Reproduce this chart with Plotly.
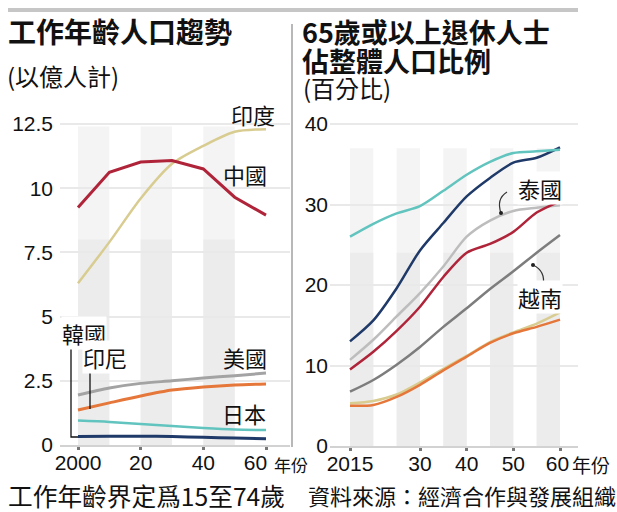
import plotly.graph_objects as go

W, H = 617, 512

# ---------------- data: left panel (working-age population, 億人) ----------------
work_years = [2000, 2010, 2020, 2030, 2040, 2050, 2060]
work_china = [9.25, 10.62, 11.02, 11.08, 10.75, 9.65, 8.95]
work_india = [6.3, 7.9, 9.6, 10.95, 11.65, 12.2, 12.3]
work_usa = [1.95, 2.22, 2.40, 2.50, 2.61, 2.70, 2.80]
work_indonesia = [1.36, 1.64, 1.91, 2.14, 2.26, 2.34, 2.38]
work_japan = [0.95, 0.90, 0.82, 0.74, 0.66, 0.60, 0.58]
work_korea = [0.33, 0.34, 0.34, 0.33, 0.30, 0.27, 0.24]

# ---------------- data: right panel (share aged 65+, %) ----------------
old_years = [2015, 2020, 2025, 2030, 2035, 2040, 2045, 2050, 2055, 2060]
old_japan = [26.0, 27.6, 28.9, 29.8, 31.7, 33.7, 35.3, 36.4, 36.6, 36.8]
old_korea = [13.0, 15.6, 19.6, 24.3, 27.7, 31.0, 33.3, 35.2, 35.8, 37.1]
old_china = [9.5, 11.7, 14.3, 17.3, 21.0, 24.0, 25.1, 26.6, 29.0, 30.4]
old_thailand = [10.7, 13.2, 16.1, 19.0, 22.3, 26.0, 28.0, 29.2, 29.6, 29.9]
old_vietnam = [6.75, 8.2, 10.1, 12.3, 14.8, 17.1, 19.5, 21.7, 24.0, 26.2]
old_india = [5.3, 5.6, 6.4, 7.9, 9.6, 11.2, 12.9, 14.1, 15.2, 16.6]
old_indonesia = [5.0, 5.1, 6.1, 7.6, 9.4, 11.1, 12.8, 14.0, 14.8, 15.7]

# ---------------- ticks / bands ----------------
left_x_ticks = [2000, 2020, 2040, 2060]
left_x_text = ["2000", "20", "40", "60\u2003"]
left_y_ticks = [0, 2.5, 5, 7.5, 10, 12.5]
left_y_text = ["0", "2.5", "5", "7.5", "10", "12.5"]
right_x_ticks = [2015, 2030, 2040, 2050, 2060]
right_x_text = ["2015", "30", "40", "50", "60\u2005"]
right_y_ticks = [0, 10, 20, 30, 40]
right_y_text = ["0", "10", "20", "30", "40"]
left_bands = [(2000, 2010), (2020, 2030), (2040, 2050)]
right_bands = [(2015, 2020), (2025, 2030), (2035, 2040), (2045, 2050), (2055, 2060)]

# ---------------- style ----------------
CJK = "Noto Sans CJK TC, Noto Sans CJK SC, sans-serif"
NUM = "Liberation Sans Narrow, Arial Narrow, Liberation Sans, sans-serif"
NUM_SIZE = 21
C_CHINA = "#b0243a"
C_INDIA = "#d8cc90"
C_USA = "#a3a3a3"
C_INDO = "#e5773a"
C_JAPAN = "#62c4be"
C_KOREA = "#1f3a68"
C_THAI = "#bdbdbd"
C_VIET = "#7d7d7d"


def px(x):
    return x / W


def py(y):
    return 1 - y / H


fig = go.Figure()


def line(x, y, color, width, axis, shape="spline"):
    xa, ya = ("x", "y") if axis == 1 else ("x2", "y2")
    fig.add_trace(go.Scatter(x=x, y=y, mode="lines", xaxis=xa, yaxis=ya,
                             line=dict(color=color, width=width, shape=shape, smoothing=0.8),
                             hoverinfo="skip", showlegend=False, cliponaxis=False))


# left panel
line(work_years, work_korea, C_KOREA, 3, 1)
line(work_years, work_japan, C_JAPAN, 2.5, 1)
line(work_years, work_usa, C_USA, 3, 1)
line(work_years, work_indonesia, C_INDO, 3, 1)
line(work_years, work_india, C_INDIA, 2.5, 1)
line(work_years, work_china, C_CHINA, 3, 1, shape="linear")

# right panel
line(old_years, old_india, C_INDIA, 2.5, 2)
line(old_years, old_indonesia, C_INDO, 2.5, 2)
line(old_years, old_vietnam, C_VIET, 2.5, 2)
line(old_years, old_thailand, C_THAI, 2.5, 2)
line(old_years, old_china, C_CHINA, 2.5, 2)
line(old_years, old_korea, C_KOREA, 2.5, 2)
line(old_years, old_japan, C_JAPAN, 2.5, 2)

# axes geometry (pixel-derived)
lx_ppy = (266 - 78) / 60.0
rx_ppy = (560 - 350) / 45.0
ly_ppu = (445 - 124) / 12.5
ry_ppu = (446 - 124) / 40.0

xcommon = dict(showgrid=False, zeroline=False, fixedrange=True, automargin=False,
               showline=True, linecolor="#d2d2d2", linewidth=2,
               ticks="outside", ticklen=3, tickwidth=3, tickcolor="#777",
               ticklabelstandoff=-5,
               tickfont=dict(family=NUM, size=NUM_SIZE, color="#111"))
ycommon = dict(showgrid=True, gridcolor="#e9e9e9", gridwidth=2, zeroline=False,
               fixedrange=True, automargin=False,
               tickfont=dict(family=NUM, size=NUM_SIZE, color="#111"))

fig.update_layout(
    width=W, height=H, margin=dict(l=0, r=0, t=0, b=0, autoexpand=False),
    paper_bgcolor="white", plot_bgcolor="white",
    xaxis=dict(domain=[px(60), px(290)],
               range=[2000 - 18 / lx_ppy, 2060 + 24 / lx_ppy],
               tickvals=left_x_ticks, ticktext=left_x_text, anchor="y", **xcommon),
    yaxis=dict(domain=[py(445), py(112)],
               range=[0, (445 - 112) / ly_ppu],
               tickvals=left_y_ticks, ticktext=left_y_text,
               ticklabelstandoff=6, anchor="x", **ycommon),
    xaxis2=dict(domain=[px(330), px(578)],
                range=[2015 - 20 / rx_ppy, 2060 + 18 / rx_ppy],
                tickvals=right_x_ticks, ticktext=right_x_text, anchor="y2", **xcommon),
    yaxis2=dict(domain=[py(446), py(112)],
                range=[0, (446 - 112) / ry_ppu],
                tickvals=right_y_ticks, ticktext=right_y_text,
                ticklabelstandoff=1, anchor="x2", **ycommon),
)

# background bands
for (a, b) in left_bands:
    fig.add_shape(type="rect", xref="x", yref="y", x0=a, x1=b, y0=0, y1=12.4,
                  fillcolor="#f4f4f4", line_width=0, layer="below")
    fig.add_shape(type="rect", xref="x", yref="y", x0=a, x1=b, y0=0, y1=8.0,
                  fillcolor="#ececec", line_width=0, layer="below")
for (a, b) in right_bands:
    fig.add_shape(type="rect", xref="x2", yref="y2", x0=a, x1=b, y0=0, y1=37,
                  fillcolor="#f4f4f4", line_width=0, layer="below")
    fig.add_shape(type="rect", xref="x2", yref="y2", x0=a, x1=b, y0=0, y1=24,
                  fillcolor="#ececec", line_width=0, layer="below")

# frame lines
fig.add_shape(type="line", xref="paper", yref="paper", x0=px(8), x1=px(578), y0=py(10), y1=py(10),
              line=dict(color="#c6c6c6", width=4))
fig.add_shape(type="line", xref="paper", yref="paper", x0=px(292), x1=px(292), y0=py(24), y1=py(447),
              line=dict(color="#b8b8b8", width=2))


def path(points, cmd=None):
    s = "M {} {}".format(px(points[0][0]), py(points[0][1]))
    if cmd == "Q":
        s += " Q {} {} {} {}".format(px(points[1][0]), py(points[1][1]), px(points[2][0]), py(points[2][1]))
    else:
        for (x, y) in points[1:]:
            s += " L {} {}".format(px(x), py(y))
    return s


# leader lines
fig.add_shape(type="path", xref="paper", yref="paper", path=path([(71, 343), (71, 437), (78, 437)]),
              line=dict(color="#111", width=1.3))
fig.add_shape(type="path", xref="paper", yref="paper", path=path([(90, 370), (90, 409)]),
              line=dict(color="#111", width=1.3))
fig.add_shape(type="path", xref="paper", yref="paper", path=path([(507, 192), (496, 199), (501, 213)], "Q"),
              line=dict(color="#333", width=1.2))
fig.add_shape(type="path", xref="paper", yref="paper", path=path([(533, 265), (546, 271), (543, 286)], "Q"),
              line=dict(color="#333", width=1.2))
for (cx, cy) in [(501, 213), (533, 265)]:
    fig.add_shape(type="circle", xref="paper", yref="paper",
                  x0=px(cx - 2), x1=px(cx + 2), y0=py(cy + 2), y1=py(cy - 2),
                  fillcolor="#222", line_width=0)


def label(text, x, cy, size=22, bold=False, xanchor="center", bg="rgba(0,0,0,0)"):
    fig.add_annotation(x=px(x), y=py(cy), xref="paper", yref="paper", text=text,
                       showarrow=False, xanchor=xanchor, yanchor="middle",
                       font=dict(family=CJK, size=size, color="#111",
                                 weight="bold" if bold else "normal"),
                       bgcolor=bg, borderpad=0)


# titles
label("工作年齡人口趨勢", 7, 31, size=28, bold=True, xanchor="left")
label("(以億人計)", 6, 75, size=24, xanchor="left")
label("65歲或以上退休人士", 301, 31, size=27, bold=True, xanchor="left")
label("佔整體人口比例", 301, 60, size=27, bold=True, xanchor="left")
label("(百分比)", 302, 87, size=24, xanchor="left")

# series labels
label("印度", 253, 114)
label("中國", 245, 174)
label("美國", 245, 357)
label("日本", 244, 413)
label("韓國", 84, 333, bg="white")
label("印尼", 105, 357, bg="white")
label("泰國", 540, 188, bg="white")
label("越南", 540, 297, bg="white")

# axis unit labels
label("年份", 291, 464, size=17)
label("年份", 591, 464, size=19)

# footnotes
label("工作年齡界定爲15至74歲", 7, 495, size=24.7, xanchor="left")
label("資料來源：經濟合作與發展組織", 307, 495, size=22, xanchor="left")

# the page is photographed from its top-left corner: drop the default body margin
fig.write_html("out.html", config={"displayModeBar": False},
               post_script="document.body.style.margin='0';")
